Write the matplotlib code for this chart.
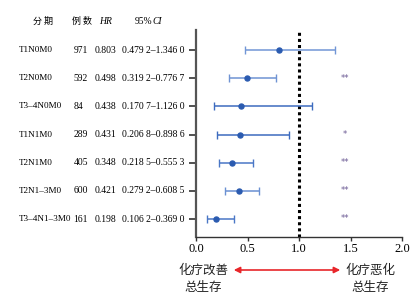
import numpy as np
import matplotlib
matplotlib.use('Agg')
import matplotlib.pyplot as plt
import matplotlib.transforms as mtransforms

plt.rcParams['font.family'] = ['Liberation Serif', 'Noto Sans CJK SC', 'DejaVu Sans']
plt.rcParams['axes.unicode_minus'] = False

# data
stages = ['T1N0M0', 'T2N0M0', 'T3–4N0M0', 'T1N1M0', 'T2N1M0', 'T2N1–3M0', 'T3–4N1–3M0']
cases = [971, 592, 84, 289, 405, 600, 161]
hr = [0.803, 0.498, 0.438, 0.431, 0.348, 0.421, 0.198]
ci_low = [0.4792, 0.3192, 0.1707, 0.2068, 0.2185, 0.2792, 0.1062]
ci_high = [1.3460, 0.7767, 1.1260, 0.8986, 0.5553, 0.6085, 0.3690]
sig = ['', '**', '', '*', '**', '**', '**']
xticks = [0.0, 0.5, 1.0, 1.5, 2.0]

line_cols = ['#7196d6', '#6f93d3', '#3d6bbf', '#3d6bbf', '#4a77c6', '#6a90d2', '#4a77c6']
dot_col = '#2b5bb0'


def fmt4(v):
    s = '%.4f' % v
    return s[:5] + ' ' + s[5:]


fig = plt.figure(figsize=(4.13, 2.97), dpi=100)
ax = fig.add_axes([196 / 413, 1 - 237 / 297, 206 / 413, 207 / 297])

y = np.arange(len(stages))
for i in range(len(stages)):
    ax.errorbar(hr[i], y[i], xerr=[[hr[i] - ci_low[i]], [ci_high[i] - hr[i]]],
                fmt='none', ecolor=line_cols[i], elinewidth=1.1, capsize=3, capthick=1.0)
ax.plot(hr, y, 'o', color=dot_col, ms=3.6, zorder=3)

for i, s in enumerate(sig):
    if s:
        ax.text(1.45, y[i] + 0.08, s, ha='center', va='baseline', fontsize=6,
                color='#6b5a94', family='DejaVu Sans')

ax.axvline(1.0, color='black', lw=2.2, ls=(0, (1, 1)), zorder=1)

ax.set_xlim(0, 2.0)
ax.set_ylim(6.64, -0.72)
ax.set_xticks(xticks)
ax.set_xticklabels(['%.1f' % t for t in xticks], fontsize=9)
ax.set_yticks(y)
ax.set_yticklabels([''] * len(y))
ax.spines['top'].set_visible(False)
ax.spines['right'].set_visible(False)
ax.spines['left'].set_linewidth(1.6)
ax.spines['left'].set_color('#555555')
ax.spines['bottom'].set_linewidth(1.0)
ax.spines['bottom'].set_color('#333333')
ax.tick_params(axis='y', length=5, width=1.2, color='#333333', pad=1)
ax.tick_params(axis='x', length=3, width=1.0, color='#333333', pad=1)

# table columns left of the axis
trans = mtransforms.blended_transform_factory(fig.transFigure, ax.transData)
fs = 6.9
for i in range(len(stages)):
    ax.text(19 / 413, y[i], stages[i], transform=trans, ha='left', va='center', fontsize=6.6)
    ax.text(73.5 / 413, y[i], str(cases[i]), transform=trans, ha='left', va='center', fontsize=fs)
    ax.text(95 / 413, y[i], '%.3f' % hr[i], transform=trans, ha='left', va='center', fontsize=fs)
    ax.text(122 / 413, y[i], fmt4(ci_low[i]) + '–' + fmt4(ci_high[i]), transform=trans,
            ha='left', va='center', fontsize=fs)

hy = 1 - 21 / 297
fig.text(33 / 413, hy, '分 期', ha='left', va='center', fontsize=6.5, family='Noto Sans CJK SC')
fig.text(72 / 413, hy, '例 数', ha='left', va='center', fontsize=6.5, family='Noto Sans CJK SC')
fig.text(99 / 413, hy, 'HR', ha='left', va='center', fontsize=fs, style='italic')
fig.text(135 / 413, hy, '95%', ha='left', va='center', fontsize=fs)
fig.text(152 / 413, hy, 'CI', ha='left', va='center', fontsize=fs, style='italic')

# bottom annotation
fig.text(203 / 413, 1 - 270 / 297, '化疗改善', ha='center', va='center', fontsize=9,
         family='Noto Sans CJK SC', color='#222222')
fig.text(203 / 413, 1 - 287 / 297, '总生存', ha='center', va='center', fontsize=9,
         family='Noto Sans CJK SC', color='#222222')
fig.text(370 / 413, 1 - 270 / 297, '化疗恶化', ha='center', va='center', fontsize=9,
         family='Noto Sans CJK SC', color='#222222')
fig.text(370 / 413, 1 - 287 / 297, '总生存', ha='center', va='center', fontsize=9,
         family='Noto Sans CJK SC', color='#222222')
fig.patches.append(matplotlib.patches.FancyArrowPatch(
    (231 / 413, 1 - 270 / 297), (343 / 413, 1 - 270 / 297), transform=fig.transFigure,
    arrowstyle='<|-|>', mutation_scale=9, color='#e8262a', lw=1.2))

fig.savefig('out.png', dpi=100)
